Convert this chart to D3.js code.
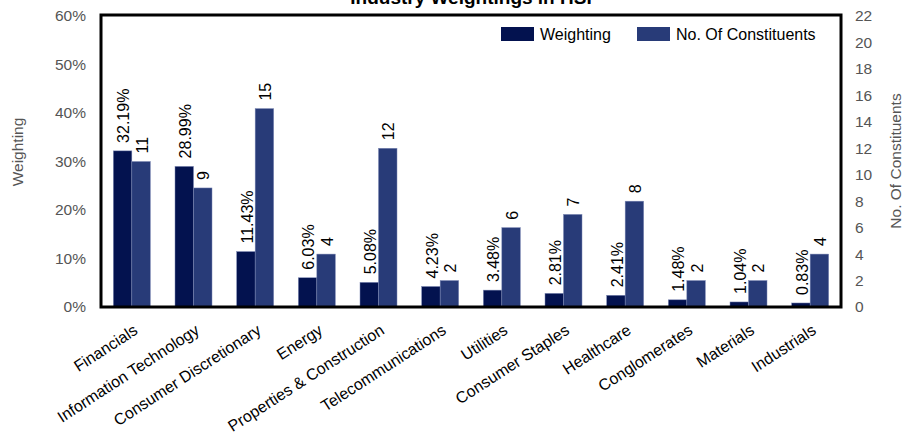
<!DOCTYPE html>
<html>
<head>
<meta charset="utf-8">
<script src="https://cdn.jsdelivr.net/npm/d3@7"></script>
<style>
  html, body { margin: 0; padding: 0; background: #fff; }
  svg { display: block; font-family: "Liberation Sans", Arial, sans-serif; }
</style>
</head>
<body>
<div id="chart"></div>
<script>
// Industry weightings in HSI
const categories = ['Financials', 'Information Technology', 'Consumer Discretionary', 'Energy',
  'Properties & Construction', 'Telecommunications', 'Utilities', 'Consumer Staples',
  'Healthcare', 'Conglomerates', 'Materials', 'Industrials'];
const weighting = [32.19, 28.99, 11.43, 6.03, 5.08, 4.23, 3.48, 2.81, 2.41, 1.48, 1.04, 0.83];
const constituents = [11, 9, 15, 4, 12, 2, 6, 7, 8, 2, 2, 4];
const weightTicks = [0, 10, 20, 30, 40, 50, 60];
const countTicks = [0, 2, 4, 6, 8, 10, 12, 14, 16, 18, 20, 22];

const W = 905, H = 434;
const plotLeft = 101, plotRight = 841, plotTop = 16, plotBottom = 307;
const darkBlue = '#03124f', midBlue = '#283b78';

const svg = d3.select('#chart').append('svg')
  .attr('width', W)
  .attr('height', H);

const x = d3.scaleBand().domain(categories).range([plotLeft, plotRight])
  .paddingInner(0.4).paddingOuter(0.2);
const half = x.bandwidth() / 2;
const yW = d3.scaleLinear().domain([0, 60]).range([plotBottom, plotTop]);
const yC = d3.scaleLinear().domain([0, 22]).range([plotBottom, plotTop]);

// Title (cut off at the top like the original)
svg.append('text')
  .attr('x', (plotLeft + plotRight) / 2)
  .attr('y', 4)
  .attr('text-anchor', 'middle')
  .attr('font-size', '19px')
  .attr('font-weight', 'bold')
  .text('Industry Weightings in HSI');

// Left axis
const axL = svg.append('g')
  .attr('transform', `translate(${plotLeft},0)`)
  .call(d3.axisLeft(yW).tickValues(weightTicks).tickSize(0).tickPadding(15).tickFormat(d => d + '%'));
axL.select('.domain').remove();
axL.selectAll('text').attr('font-size', '15.5px').attr('fill', '#555');
axL.attr('font-family', null);

// Right axis
const axR = svg.append('g')
  .attr('transform', `translate(${plotRight},0)`)
  .call(d3.axisRight(yC).tickValues(countTicks).tickSize(0).tickPadding(14));
axR.select('.domain').remove();
axR.selectAll('text').attr('font-size', '15.5px').attr('fill', '#555');
axR.attr('font-family', null);

// Axis titles
svg.append('text')
  .attr('transform', 'translate(23,152) rotate(-90)')
  .attr('text-anchor', 'middle')
  .attr('font-size', '15.5px')
  .attr('fill', '#555')
  .text('Weighting');
svg.append('text')
  .attr('transform', 'translate(901,161) rotate(-90)')
  .attr('text-anchor', 'middle')
  .attr('font-size', '15.5px')
  .attr('fill', '#555')
  .text('No. Of Constituents');

// Bars
const groups = svg.append('g')
  .selectAll('g')
  .data(categories)
  .join('g')
  .attr('transform', d => `translate(${x(d)},0)`);

groups.append('rect')
  .attr('x', 0)
  .attr('width', half)
  .attr('y', (d, i) => yW(weighting[i]))
  .attr('height', (d, i) => plotBottom - yW(weighting[i]))
  .attr('fill', darkBlue)
  .attr('stroke', '#7c88b4')
  .attr('stroke-width', 0.5);

groups.append('rect')
  .attr('x', half)
  .attr('width', half)
  .attr('y', (d, i) => yC(constituents[i]))
  .attr('height', (d, i) => plotBottom - yC(constituents[i]))
  .attr('fill', midBlue)
  .attr('stroke', '#7c88b4')
  .attr('stroke-width', 0.5);

// Value labels (rotated)
groups.append('text')
  .attr('transform', (d, i) => `translate(${half / 2 + 1},${yW(weighting[i]) - 8}) rotate(-90)`)
  .attr('dy', '0.35em')
  .attr('font-size', '16px')
  .text((d, i) => weighting[i].toFixed(2) + '%');

groups.append('text')
  .attr('transform', (d, i) => `translate(${half * 1.5 + 1},${yC(constituents[i]) - 8}) rotate(-90)`)
  .attr('dy', '0.35em')
  .attr('font-size', '16px')
  .text((d, i) => constituents[i]);

// Category labels
svg.append('g')
  .selectAll('text')
  .data(categories)
  .join('text')
  .attr('transform', d => `translate(${x(d) + half + 7},${plotBottom + 26}) rotate(-33)`)
  .attr('text-anchor', 'end')
  .attr('font-size', '16px')
  .text(d => d);

// Plot frame
svg.append('rect')
  .attr('x', plotLeft)
  .attr('y', 15)
  .attr('width', plotRight - plotLeft)
  .attr('height', plotBottom - 15)
  .attr('fill', 'none')
  .attr('stroke', '#000')
  .attr('stroke-width', 3);

// Legend
const legend = [
  { name: 'Weighting', color: darkBlue, x: 501 },
  { name: 'No. Of Constituents', color: midBlue, x: 637 }
];
const lg = svg.append('g')
  .selectAll('g')
  .data(legend)
  .join('g')
  .attr('transform', d => `translate(${d.x},27)`);
lg.append('rect')
  .attr('width', 33)
  .attr('height', 14)
  .attr('fill', d => d.color);
lg.append('text')
  .attr('x', 39)
  .attr('y', 13)
  .attr('font-size', '16px')
  .text(d => d.name);
</script>
</body>
</html>
